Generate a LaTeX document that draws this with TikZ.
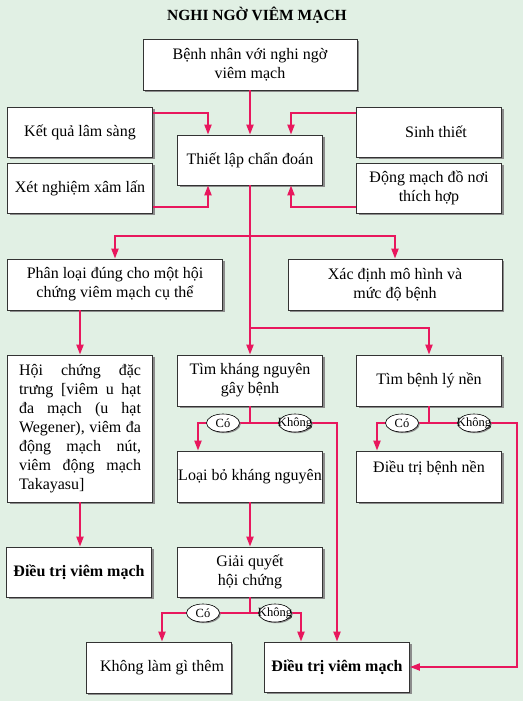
\documentclass[tikz,border=0pt]{standalone}
\usepackage{fontspec}
\setmainfont{Liberation Serif}
\usepackage{xcolor}
\usepackage{tikz}
\usetikzlibrary{arrows.meta,positioning,shapes.geometric,shadows}
\definecolor{paper}{HTML}{E1F0E4}
\definecolor{linkred}{HTML}{E8175D}
\newcommand{\jline}[1]{\makebox[122pt][s]{#1}}

\begin{document}
\begin{tikzpicture}[
    x=1pt, y=-1pt,
    box/.style={draw=black!80, fill=white, line width=0.8pt, minimum width=145pt, minimum height=50pt, inner sep=1pt, align=center, font=\fontsize{16}{19}\selectfont, drop shadow={shadow xshift=2pt, shadow yshift=-2pt, opacity=1, fill=black!45}},
    arrow/.style={-{Triangle[length=10pt,width=7pt]}, line width=2pt, draw=linkred},
    link/.style={line width=2pt, draw=linkred},
    tag/.style={ellipse, draw=black, fill=white, line width=0.6pt, minimum width=33pt, minimum height=18pt, inner sep=0pt, font=\fontsize{12.5}{12.5}\selectfont, drop shadow={shadow xshift=1.2pt, shadow yshift=-1.2pt, opacity=1, fill=black!45}},
    title/.style={font=\fontsize{15.5}{18}\selectfont\bfseries}
]
    % Background
    \fill[paper] (0,0) rectangle (523,701);
    \useasboundingbox (0,0) rectangle (523,701);
    \node[title] (head) at (257,15) {NGHI NGỜ VIÊM MẠCH};

    % Diagnosis
    \node[box, minimum width=214pt, minimum height=51pt] (patient) at (250,64.5) {Bệnh nhân với nghi ngờ\\viêm mạch};
    \node[box] (clinic) at (80,132) {Kết quả lâm sàng};
    \node[box] (invasive) at (80,188) {Xét nghiệm xâm lấn};
    \node[box] (diagnose) at (250,160) {Thiết lập chẩn đoán};
    \node[box] (biopsy) at (429,132) {\hspace*{14pt}Sinh thiết};
    \node[box] (angio) at (429,188) {Động mạch đồ nơi\\thích hợp};

    \draw[arrow] (patient.south) -- (diagnose.north);
    \draw[arrow] ([yshift=19pt]clinic.east) -| ([xshift=-42pt]diagnose.north);
    \draw[arrow] ([yshift=-19pt]invasive.east) -| ([xshift=-42pt]diagnose.south);
    \draw[arrow] ([yshift=19pt]biopsy.west) -| ([xshift=41pt]diagnose.north);
    \draw[arrow] ([yshift=-19pt]angio.west) -| ([xshift=41pt]diagnose.south);

    % Classification and search
    \node[box, minimum width=215pt, minimum height=51pt] (classify) at (115,284.5) {Phân loại đúng cho một hội\\chứng viêm mạch cụ thể};
    \node[box, minimum width=214pt, minimum height=51pt] (severity) at (395,284.5) {Xác định mô hình và\\mức độ bệnh};
    \node[box, minimum height=147pt, align=left] (syndrome) at (80,428.5) {\jline{Hội chứng đặc}\\\jline{trưng [viêm u hạt}\\\jline{đa mạch (u hạt}\\\jline{Wegener), viêm đa}\\\jline{động mạch nút,}\\\jline{viêm động mạch}\\Takayasu]};
    \node[box, minimum height=51pt] (antigen) at (250,380.5) {Tìm kháng nguyên\\gây bệnh};
    \node[box, minimum height=51pt] (underlying) at (429,380.5) {Tìm bệnh lý nền};

    \coordinate (split) at (250,236);
    \coordinate (splitlow) at (250,328);
    \draw[link] (diagnose.south) -- (split);
    \draw[arrow] (split) -| (classify.north);
    \draw[arrow] (split) -| (severity.north);
    \draw[arrow] (split) -- (antigen.north);
    \draw[arrow] (splitlow) -| (underlying.north);
    \draw[arrow] (classify.south -| syndrome.north) -- (syndrome.north);

    % Treatment
    \node[box, minimum height=51pt] (remove) at (250,476.5) {Loại bỏ kháng nguyên};
    \node[box, minimum height=51pt] (treatbase) at (429,476.5) {Điều trị bệnh nền\\\mbox{}};
    \node[box] (resolve) at (250,572) {Giải quyết\\hội chứng};
    \node[box, font=\fontsize{16}{19}\selectfont\bfseries] (treatleft) at (79,572) {Điều trị viêm mạch};
    \node[box, minimum height=51pt] (nothing) at (158.5,667.5) {\hspace*{7pt}Không làm gì thêm};
    \node[box, font=\fontsize{16}{19}\selectfont\bfseries] (treatmain) at (337,667) {Điều trị viêm mạch};

    \coordinate (antigenfork) at (250,423);
    \coordinate (resolvefork) at (250,613);
    \coordinate (underfork) at (429,423);
    \draw[arrow] (syndrome.south) -- (treatleft.north -| syndrome.south);
    \draw[link] (antigen.south) -- (antigenfork);
    \draw[arrow] (antigenfork) -| ([xshift=-52pt]remove.north);
    \draw[arrow] (antigenfork) -| (treatmain.north);
    \draw[arrow] (remove.south) -- (resolve.north);
    \draw[link] (resolve.south) -- (resolvefork);
    \draw[arrow] (resolvefork) -| ([xshift=3.5pt]nothing.north);
    \draw[arrow] (resolvefork) -| ([xshift=-36pt]treatmain.north);
    \draw[link] (underlying.south) -- (underfork);
    \draw[arrow] (underfork) -| ([xshift=-52pt]treatbase.north);
    \draw[arrow] (underfork) -- ++(88,0) |- (treatmain.east);

    % Yes / no tags
    \node[tag] (yes1) at (223,423) {Có};
    \node[tag] (no1) at (295,423) {\makebox[0pt]{Không}};
    \node[tag] (yes2) at (402,423) {Có};
    \node[tag] (no2) at (474,423) {\makebox[0pt]{Không}};
    \node[tag] (yes3) at (203,613) {Có};
    \node[tag] (no3) at (275,613) {\makebox[0pt]{Không}};

\end{tikzpicture}
\end{document}
